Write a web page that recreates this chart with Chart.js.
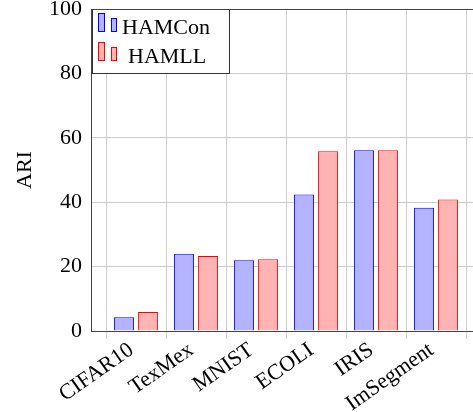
<!DOCTYPE html>
<html>
<head>
<meta charset="utf-8">
<script src="https://cdn.jsdelivr.net/npm/chart.js@4/dist/chart.umd.min.js"></script>
<style>
  html, body { margin: 0; padding: 0; background: #fff; overflow: hidden; }
  #wrap { width: 473px; height: 412px; overflow: hidden; }
</style>
</head>
<body>
<div id="wrap"><canvas id="chart" width="481" height="412"></canvas></div>
<script>
// =======================
// DADOS
// =======================
const categories = ["CIFAR10", "TexMex", "MNIST", "ECOLI", "IRIS", "ImSegment"];
const hamCon = [4.3, 24.0, 22.0, 42.4, 56.1, 38.3];
const hamLL = [5.9, 23.3, 22.3, 55.8, 56.1, 40.8];
const yTicks = [0, 20, 40, 60, 80, 100];

const serif = "'Liberation Serif', 'DejaVu Serif', serif";
const axisColor = '#444444';
const gridColor = '#cccccc';

// =======================
// LEGENDA DENTRO DO GRAFICO
// =======================
const boxLegend = {
  id: 'boxLegend',
  afterDatasetsDraw(chart) {
    const ctx = chart.ctx;
    const a = chart.chartArea;
    const x0 = a.left + 1, y0 = a.top;
    ctx.save();
    ctx.fillStyle = '#fff';
    ctx.fillRect(x0, y0, 137, 64);
    ctx.strokeStyle = '#333';
    ctx.lineWidth = 1;
    ctx.strokeRect(x0 + 0.5, y0 + 0.5, 137, 64);

    chart.data.datasets.forEach((ds, i) => {
      const base = y0 + 23 + i * 29;
      ctx.fillStyle = ds.backgroundColor;
      ctx.strokeStyle = ds.borderColor;
      ctx.fillRect(x0 + 6, base - 19, 7, 19);
      ctx.strokeRect(x0 + 6.5, base - 18.5, 6, 18);
      ctx.fillRect(x0 + 19, base - 14, 6, 14);
      ctx.strokeRect(x0 + 19.5, base - 13.5, 5, 13);
      ctx.fillStyle = '#000';
      ctx.font = '22px ' + serif;
      ctx.textBaseline = 'alphabetic';
      ctx.textAlign = 'left';
      ctx.fillText(ds.label, x0 + (i === 0 ? 30 : 36), base + 2);
    });

    // borda superior do eixo
    ctx.strokeStyle = axisColor;
    ctx.beginPath();
    ctx.moveTo(a.left, a.top + 0.5);
    ctx.lineTo(a.right, a.top + 0.5);
    ctx.stroke();
    ctx.restore();
  }
};

// =======================
// GRAFICO
// =======================
const ctx = document.getElementById('chart').getContext('2d');

const chart = new Chart(ctx, {
  type: 'bar',
  data: {
    datasets: [
      {
        label: 'HAMCon',
        data: hamCon.map((v, i) => ({ x: i, y: v })),
        backgroundColor: '#b3b3ff',
        borderColor: '#0000ff',
        borderWidth: 1
      },
      {
        label: 'HAMLL',
        data: hamLL.map((v, i) => ({ x: i, y: v })),
        backgroundColor: '#ffb3b3',
        borderColor: '#ff0000',
        borderWidth: 1
      }
    ]
  },
  options: {
    responsive: false,
    animation: false,
    devicePixelRatio: 1,
    categoryPercentage: 0.8,
    barPercentage: 0.84,
    layout: { padding: { top: 9, left: 0, right: 0, bottom: 0 } },
    plugins: {
      legend: { display: false },
      tooltip: { enabled: false }
    },
    scales: {
      x: {
        type: 'linear',
        min: -0.75,
        max: 5.75,
        offset: false,
        afterBuildTicks: s => {
          s.ticks = categories.map((c, i) => ({ value: i }));
        },
        afterFit: s => {
          s.height = 81;
          s.paddingLeft = 0;
          s.paddingRight = 0;
        },
        grid: { color: gridColor, tickLength: 8, drawTicks: true },
        border: { color: axisColor, width: 1 },
        ticks: {
          autoSkip: false,
          minRotation: 35,
          maxRotation: 35,
          padding: -5,
          color: '#000',
          font: { family: serif, size: 22 },
          callback: v => categories[v] + ' '
        }
      },
      y: {
        min: 0,
        max: 100,
        afterBuildTicks: s => {
          s.ticks = yTicks.map(v => ({ value: v }));
        },
        afterFit: s => {
          s.width = 91;
          s.paddingTop = 0;
          s.paddingBottom = 0;
        },
        grid: { color: gridColor, drawTicks: false },
        border: { color: axisColor, width: 1 },
        ticks: {
          padding: 9,
          color: '#000',
          font: { family: serif, size: 22 }
        },
        title: {
          display: true,
          text: 'ARI',
          color: '#000',
          font: { family: serif, size: 22 },
          padding: { top: 12, bottom: 0 }
        }
      }
    }
  },
  plugins: [boxLegend]
});
</script>
</body>
</html>
